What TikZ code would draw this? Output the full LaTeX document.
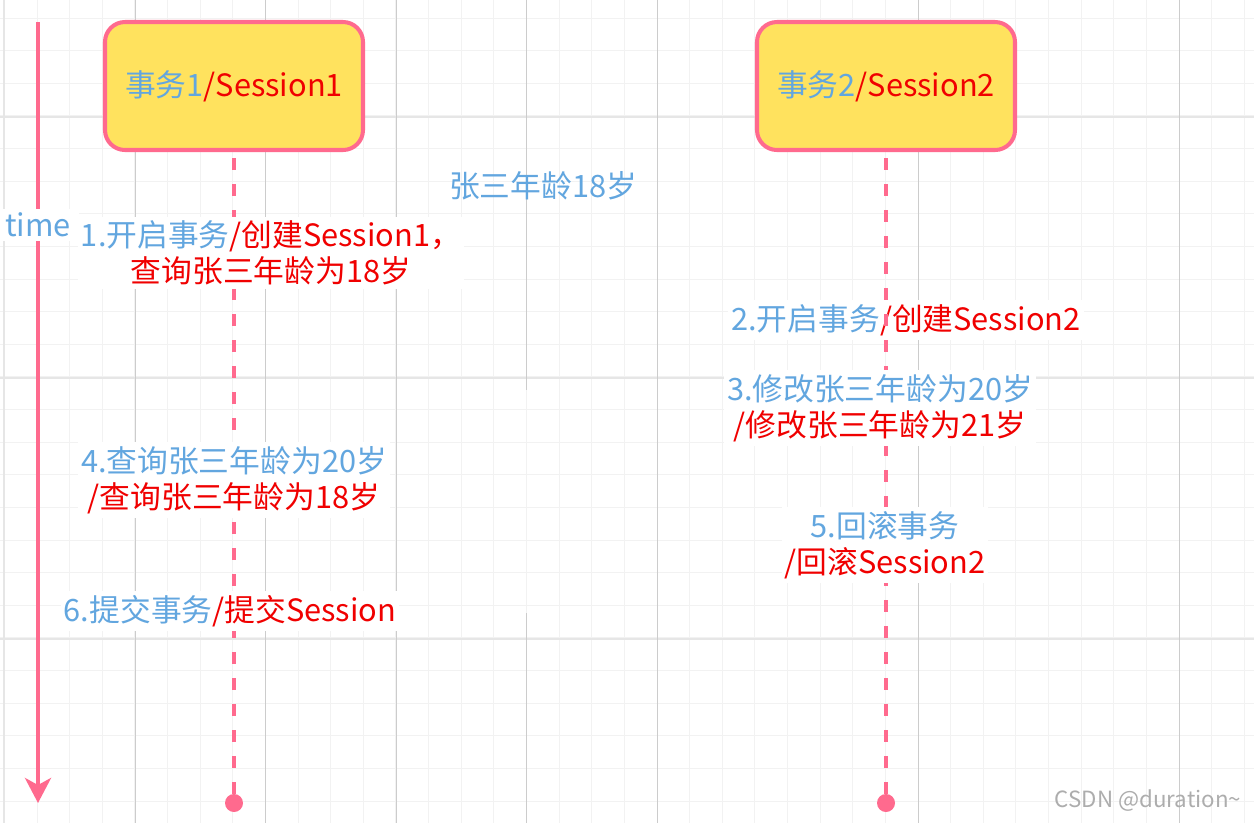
\documentclass[tikz,border=0pt]{standalone}
\usepackage{fontspec}
\setmainfont{Noto Sans CJK SC}
\usepackage{xcolor}
\usetikzlibrary{positioning,arrows.meta}
\definecolor{lifepink}{HTML}{FF6A8E}
\definecolor{boxyellow}{HTML}{FFE25E}
\definecolor{stepblue}{HTML}{62A6DF}
\definecolor{stepred}{HTML}{F00000}
\definecolor{gridminor}{HTML}{F2F2F2}
\definecolor{gridmajor}{HTML}{E6E6E6}
\definecolor{gridline}{HTML}{CCCCCC}
\newcommand{\bl}[1]{\textcolor{stepblue}{#1}}
\newcommand{\rd}[1]{\textcolor{stepred}{#1}}

\begin{document}
\begin{tikzpicture}[x=0.2mm,y=-0.2mm, every node/.style={font=\fontsize{17.5}{20.5}\selectfont}]
\tikzstyle{session}=[draw=lifepink,line width=2.3pt,rounded corners=4mm,fill=boxyellow,minimum width=51.6mm,minimum height=25.6mm,align=center]
\tikzstyle{note}=[fill=white,align=center,inner xsep=0.6mm,inner ysep=0.8mm]
\tikzstyle{life}=[draw=lifepink,line width=2.3pt,dash pattern=on 2.3mm off 2.9mm,shorten <=1.2mm]
\tikzstyle{enddot}=[circle,fill=lifepink,minimum size=3.6mm,inner sep=0pt]
\useasboundingbox[fill=white] (0,0) rectangle (1254,823);
\foreach \i in {0,...,38} \draw[gridminor,line width=0.2mm] (4.4+\i*32.63,0) -- (4.4+\i*32.63,823);
\foreach \j in {0,...,24} \draw[gridminor,line width=0.2mm] (0,18+\j*32.63) -- (1254,18+\j*32.63);
\foreach \j in {117,378,639} \draw[gridmajor,line width=0.4mm] (0,\j) -- (1254,\j);
\foreach \i in {135,265,396,657,918,1179} \draw[gridline,line width=0.2mm] (\i,0) -- (\i,823);
\draw[gridmajor,line width=0.3mm] (4,0) -- (4,823);
\draw[gridline,line width=0.2mm] (526,0) -- (526,390);
\draw[gridline,line width=0.2mm] (526,613) -- (526,823);

\node[session] (s1) at (234,86) {\raisebox{-0.6mm}{\bl{事务1}\rd{/Session1}}};
\node[session] (s2) at (886,86) {\raisebox{-0.6mm}{\bl{事务2}\rd{/Session2}}};
\node[enddot] (end1) at (234,803) {};
\node[enddot] (end2) at (886,803) {};
\node[note] (open2) at (906,320) {\bl{2.开启事务}\rd{/创建Session2}};
\draw[life] (s1.south) -- (end1);
\draw[life] (s2.south) -- (end2);

\node (age) at (543,186) {\bl{张三年龄18岁}};
\node[note] (open1) at (271,253) {\bl{1.开启事务}\rd{/创建Session1，}\\\rd{查询张三年龄为18岁}};
\node[note] (update) at (880,408) {\bl{3.修改张三年龄为20岁}\\\rd{/修改张三年龄为21岁}};
\node[note] (query) at (234,480) {\bl{4.查询张三年龄为20岁}\\\rd{/查询张三年龄为18岁}};
\node[note] (rollback) at (885,545) {\bl{5.回滚事务}\\\rd{/回滚Session2}};
\node[note] (commit) at (230,611) {\bl{6.提交事务}\rd{/提交Session}};

\coordinate (ttop) at (38,22);
\coordinate (tend) at (38,803);
\draw[lifepink,line width=2.3pt,-{Stealth[length=5mm,width=5.2mm,inset=1.4mm]}] (ttop) -- (tend);
\node[note,inner xsep=1.6mm] (time) at (38,225) {\bl{time}};

\node[text=black!32,font=\fontsize{12.7}{15}\selectfont] (mark) at (1148,801) {CSDN @duration\textasciitilde};
\end{tikzpicture}
\end{document}
